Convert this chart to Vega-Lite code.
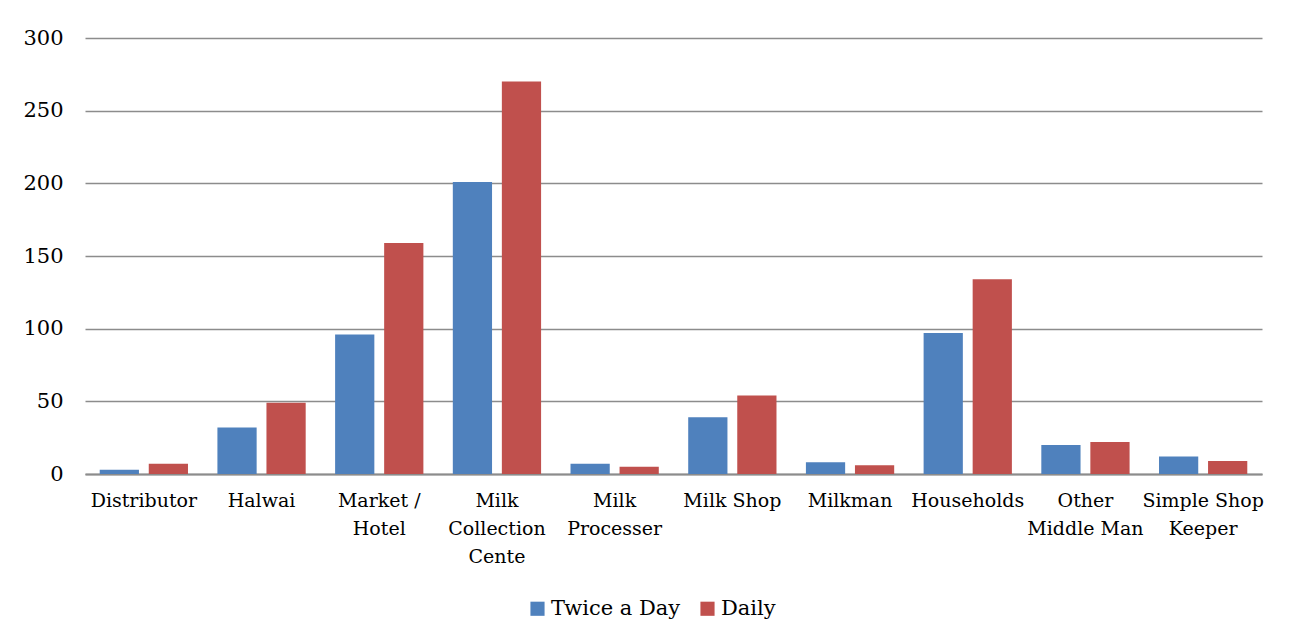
{
  "$schema": "https://vega.github.io/schema/vega-lite/v6.json",
  "width": 1177,
  "height": 436,
  "autosize": {"type": "none"},
  "padding": {"left": 85, "top": 38, "right": 27, "bottom": 167},
  "background": "white",
  "data": {
    "values": [
      {"category": "Distributor", "series": "Twice a Day", "value": 3},
      {"category": "Distributor", "series": "Daily", "value": 7},
      {"category": "Halwai", "series": "Twice a Day", "value": 32},
      {"category": "Halwai", "series": "Daily", "value": 49},
      {"category": "Market / Hotel", "series": "Twice a Day", "value": 96},
      {"category": "Market / Hotel", "series": "Daily", "value": 159},
      {"category": "Milk Collection Cente", "series": "Twice a Day", "value": 201},
      {"category": "Milk Collection Cente", "series": "Daily", "value": 270},
      {"category": "Milk Processer", "series": "Twice a Day", "value": 7},
      {"category": "Milk Processer", "series": "Daily", "value": 5},
      {"category": "Milk Shop", "series": "Twice a Day", "value": 39},
      {"category": "Milk Shop", "series": "Daily", "value": 54},
      {"category": "Milkman", "series": "Twice a Day", "value": 8},
      {"category": "Milkman", "series": "Daily", "value": 6},
      {"category": "Households", "series": "Twice a Day", "value": 97},
      {"category": "Households", "series": "Daily", "value": 134},
      {"category": "Other Middle Man", "series": "Twice a Day", "value": 20},
      {"category": "Other Middle Man", "series": "Daily", "value": 22},
      {"category": "Simple Shop Keeper", "series": "Twice a Day", "value": 12},
      {"category": "Simple Shop Keeper", "series": "Daily", "value": 9}
    ]
  },
  "mark": {"type": "bar"},
  "encoding": {
    "x": {
      "field": "category",
      "type": "nominal",
      "sort": null,
      "title": null,
      "scale": {"paddingInner": 0.25, "paddingOuter": 0.125},
      "axis": {
        "labelAngle": 0,
        "labelFont": "DejaVu Serif",
        "labelFontSize": 19,
        "labelColor": "#000000",
        "labelPadding": 17,
        "labelLineHeight": 28,
        "labelBaseline": "top",
        "labelExpr": "datum.label == 'Market / Hotel' ? ['Market /', 'Hotel'] : datum.label == 'Milk Collection Cente' ? ['Milk', 'Collection', 'Cente'] : datum.label == 'Milk Processer' ? ['Milk', 'Processer'] : datum.label == 'Other Middle Man' ? ['Other', 'Middle Man'] : datum.label == 'Simple Shop Keeper' ? ['Simple Shop', 'Keeper'] : datum.label",
        "ticks": false,
        "domainColor": "#8c8c8c",
        "domainWidth": 2,
        "grid": false
      }
    },
    "xOffset": {
      "field": "series",
      "type": "nominal",
      "sort": ["Twice a Day", "Daily"],
      "scale": {"paddingInner": 0.2, "paddingOuter": 0}
    },
    "y": {
      "field": "value",
      "type": "quantitative",
      "title": null,
      "scale": {"domain": [0, 300], "nice": false},
      "axis": {
        "values": [0, 50, 100, 150, 200, 250, 300],
        "labelFont": "DejaVu Serif",
        "labelFontSize": 21,
        "labelColor": "#000000",
        "labelPadding": 22,
        "ticks": false,
        "domain": false,
        "grid": true,
        "gridColor": "#8c8c8c",
        "gridWidth": 1.5
      }
    },
    "color": {
      "field": "series",
      "type": "nominal",
      "sort": ["Twice a Day", "Daily"],
      "scale": {"domain": ["Twice a Day", "Daily"], "range": ["#4F81BD", "#C0504D"]},
      "legend": {
        "title": null,
        "orient": "none",
        "legendX": 442,
        "legendY": 560,
        "direction": "horizontal",
        "symbolType": "square",
        "symbolSize": 200,
        "symbolStrokeWidth": 0,
        "labelFont": "DejaVu Serif",
        "labelFontSize": 21,
        "labelColor": "#000000",
        "columnPadding": 16,
        "labelOffset": 3
      }
    }
  },
  "config": {"view": {"stroke": null}}
}
